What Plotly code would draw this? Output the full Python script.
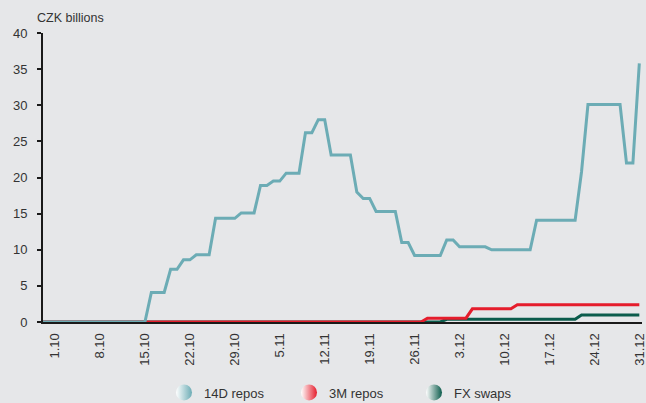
import plotly.graph_objects as go
import pandas as pd

# Daily dates (calendar days)
dates = pd.date_range("2008-09-29", "2008-12-31", freq="D").strftime("%Y-%m-%d").tolist()

# 14D repos, CZK billions (Sep 29-30, then Oct, Nov, Dec)
repos_14d = (
    [0, 0]
    + [0, 0, 0, 0, 0, 0, 0, 0, 0, 0, 0, 0, 0, 0, 0,
       4.1, 4.1, 4.1, 7.3, 7.3, 8.6, 8.6, 9.3, 9.3, 9.3,
       14.35, 14.35, 14.35, 14.35, 15.1, 15.1]
    + [15.1, 18.9, 18.9, 19.5, 19.5, 20.6, 20.6, 20.6, 26.2, 26.2,
       28.0, 28.0, 23.1, 23.1, 23.1, 23.1, 18.0, 17.1, 17.1, 15.3,
       15.3, 15.3, 15.3, 11.0, 11.0, 9.2, 9.2, 9.2, 9.2, 9.2]
    + [11.35, 11.35, 10.4, 10.4, 10.4, 10.4, 10.4, 10.0, 10.0, 10.0,
       10.0, 10.0, 10.0, 10.0, 14.1, 14.1, 14.1, 14.1, 14.1, 14.1,
       14.1, 20.8, 30.1, 30.1, 30.1, 30.1, 30.1, 30.1, 22.0, 22.0, 35.8]
)

# 3M repos
repos_3m = (
    [0, 0]
    + [0] * 31
    + [0, 0, 0, 0, 0, 0, 0, 0, 0, 0, 0, 0, 0, 0, 0,
       0, 0, 0, 0, 0, 0, 0, 0, 0, 0, 0, 0, 0.53, 0.53, 0.53]
    + [0.53, 0.53, 0.53, 0.53, 1.83, 1.83, 1.83, 1.83, 1.83, 1.83,
       1.83, 2.38, 2.38, 2.38, 2.38, 2.38, 2.38, 2.38, 2.38, 2.38,
       2.38, 2.38, 2.38, 2.38, 2.38, 2.38, 2.38, 2.38, 2.38, 2.38, 2.38]
)

# FX swaps
fx_swaps = (
    [0, 0]
    + [0] * 31
    + [0] * 30
    + [0.37, 0.37, 0.37, 0.37, 0.37, 0.37, 0.37, 0.37, 0.37, 0.37,
       0.37, 0.37, 0.37, 0.37, 0.37, 0.37, 0.37, 0.37, 0.37, 0.37,
       0.37, 0.97, 0.97, 0.97, 0.97, 0.97, 0.97, 0.97, 0.97, 0.97, 0.97]
)

tick_dates = ["2008-10-01", "2008-10-08", "2008-10-15", "2008-10-22", "2008-10-29",
              "2008-11-05", "2008-11-12", "2008-11-19", "2008-11-26", "2008-12-03",
              "2008-12-10", "2008-12-17", "2008-12-24", "2008-12-31"]
tick_labels = ["1.10", "8.10", "15.10", "22.10", "29.10", "5.11", "12.11", "19.11",
               "26.11", "3.12", "10.12", "17.12", "24.12", "31.12"]

series_names = ["14D repos", "3M repos", "FX swaps"]
series_colors = ["#6cacb5", "#e51d2c", "#0c5c4c"]

BG = "#e6e7e9"
TXT = "#333333"
FONT = "Liberation Sans, Arial, sans-serif"

fig = go.Figure()

# draw order: FX swaps, 3M repos, 14D repos (on top)
for name, vals, col in [(series_names[2], fx_swaps, series_colors[2]),
                        (series_names[1], repos_3m, series_colors[1]),
                        (series_names[0], repos_14d, series_colors[0])]:
    fig.add_trace(go.Scatter(x=dates, y=vals, mode="lines", name=name,
                             line=dict(color=col, width=3), showlegend=False,
                             hoverinfo="skip"))

# legend entries (gradient circles)
for name, col in zip(series_names, series_colors):
    fig.add_trace(go.Scatter(x=[None], y=[None], mode="markers", name=name,
                             marker=dict(size=16, symbol="circle", color="#ffffff",
                                         gradient=dict(type="horizontal", color=col),
                                         line=dict(width=0))))

fig.update_layout(
    width=646, height=403,
    margin=dict(l=43, r=4, t=33, b=81, autoexpand=False),
    paper_bgcolor=BG, plot_bgcolor=BG,
    font=dict(family=FONT, size=13, color=TXT),
    showlegend=True,
    legend=dict(orientation="h", x=0.202, xanchor="left", y=-0.192, yanchor="top",
                font=dict(size=13, color=TXT), bgcolor="rgba(0,0,0,0)",
                entrywidth=80, itemsizing="trace"),
    xaxis=dict(type="date", range=["2008-09-29 03:00", "2008-12-31 10:00"],
               tickvals=tick_dates, ticktext=tick_labels, tickangle=-90,
               showgrid=False, zeroline=False, showline=True, linecolor="#1a1a1a",
               linewidth=2, ticks="outside", ticklen=4, tickcolor="rgba(0,0,0,0)",
               tickfont=dict(size=13, color=TXT), automargin=False,
               ticklabeloverflow="allow"),
    yaxis=dict(range=[0, 40], tickvals=[0, 5, 10, 15, 20, 25, 30, 35, 40],
               showgrid=False, zeroline=False, showline=True, linecolor="#1a1a1a",
               linewidth=2, ticks="outside", ticklen=4, tickwidth=2, tickcolor="#1a1a1a",
               ticklabelstandoff=7, tickfont=dict(size=13, color=TXT), automargin=False),
    annotations=[dict(text="CZK billions", xref="paper", yref="paper",
                      x=-8 / 599, y=1 + 15 / 289, xanchor="left", yanchor="middle",
                      showarrow=False, font=dict(size=12.5, color=TXT))],
)

fig.write_html("out.html", config={"displayModeBar": False},
               post_script="document.body.style.margin='0px';")
